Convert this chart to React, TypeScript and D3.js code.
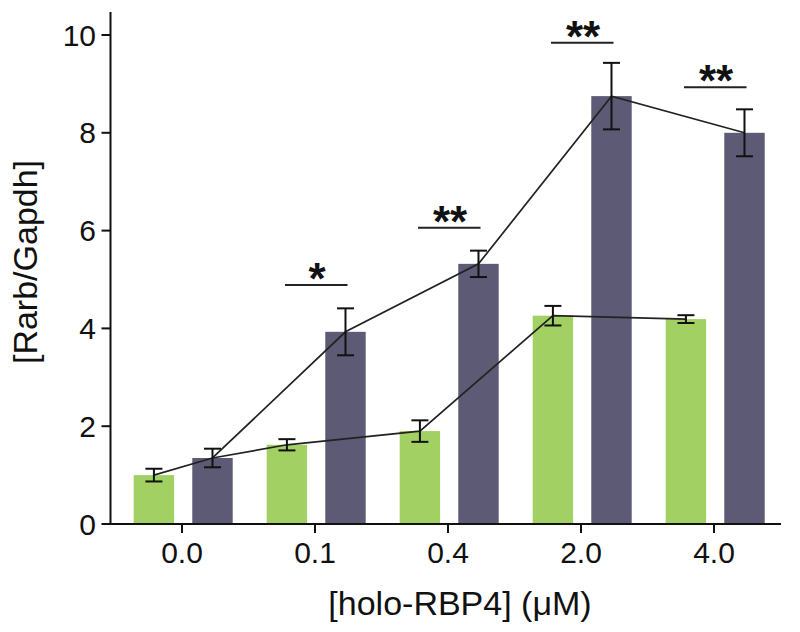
import React from "react";
import * as d3 from "d3";

const categories = ["0.0", "0.1", "0.4", "2.0", "4.0"];
const seriesKeys = ["control", "treated"];
const controlValues = [1.0, 1.62, 1.9, 4.26, 4.19];
const controlErrors = [0.13, 0.115, 0.22, 0.2, 0.08];
const treatedValues = [1.35, 3.93, 5.32, 8.75, 8.0];
const treatedErrors = [0.19, 0.48, 0.27, 0.68, 0.48];
const yTicks = [0, 2, 4, 6, 8, 10];
// lines: sequences of [categoryIndex, seriesKey]
const lowerLine: [number, string][] = [
  [0, "control"],
  [0, "treated"],
  [1, "control"],
  [2, "control"],
  [3, "control"],
  [4, "control"],
];
const upperLine: [number, string][] = [
  [0, "treated"],
  [1, "treated"],
  [2, "treated"],
  [3, "treated"],
  [4, "treated"],
];
const sigLabels = ["", "*", "**", "**", "**"];
const sigLevels = [0, 4.89, 6.06, 9.84, 8.93];
const xTitle = "[holo-RBP4] (\u03bcM)";
const yTitle = "[Rarb/Gapdh]";

const W = 800;
const H = 632;
const FONT = "'Liberation Sans', Arial, Helvetica, sans-serif";
const COLORS: Record<string, string> = { control: "#a3d063", treated: "#5c5a74" };

export default function App() {
  const axisX = 110.5;
  const axisY = 524;
  const y = d3.scaleLinear().domain([0, 10]).range([axisY, 35]);
  const x = d3.scaleBand<string>().domain(categories).range([115.5, 780.5]).padding(0);
  const xs = d3.scaleBand<string>().domain(seriesKeys).range([-48.3, 50.7]).paddingInner(0.31).paddingOuter(0);
  const bw = xs.bandwidth();
  const center = (i: number) => (x(categories[i]) as number) + x.bandwidth() / 2;
  const value = (i: number, k: string) => (k === "control" ? controlValues[i] : treatedValues[i]);
  const err = (i: number, k: string) => (k === "control" ? controlErrors[i] : treatedErrors[i]);
  const px = (i: number, k: string) => center(i) + (xs(k) as number) + bw / 2;

  const line = d3
    .line<[number, string]>()
    .x((d) => px(d[0], d[1]))
    .y((d) => y(value(d[0], d[1])));

  return (
    <svg
      width={W}
      height={H}
      style={{ position: "absolute", left: 0, top: 0, background: "#fff", display: "block" }}
      fontFamily={FONT}
    >
      <rect x={0} y={0} width={W} height={H} fill="#fff" />
      {/* bars */}
      {categories.map((c, i) =>
        seriesKeys.map((k) => (
          <rect
            key={c + k}
            x={center(i) + (xs(k) as number)}
            y={y(value(i, k))}
            width={bw}
            height={axisY - y(value(i, k))}
            fill={COLORS[k]}
          />
        ))
      )}
      {/* connecting lines */}
      <path d={line(lowerLine) || ""} fill="none" stroke="#222" strokeWidth={1.7} />
      <path d={line(upperLine) || ""} fill="none" stroke="#222" strokeWidth={1.7} />
      {/* error bars */}
      {categories.map((c, i) =>
        seriesKeys.map((k) => {
          const cx = px(i, k);
          const hi = y(value(i, k) + err(i, k));
          const lo = y(value(i, k) - err(i, k));
          return (
            <g key={"e" + c + k} stroke="#111" strokeWidth={2}>
              <line x1={cx} x2={cx} y1={hi} y2={lo} />
              <line x1={cx - 8.5} x2={cx + 8.5} y1={hi} y2={hi} />
              <line x1={cx - 8.5} x2={cx + 8.5} y1={lo} y2={lo} />
            </g>
          );
        })
      )}
      {/* significance */}
      {categories.map((c, i) =>
        sigLabels[i] ? (
          <g key={"s" + c}>
            <line
              x1={center(i) - 30}
              x2={center(i) + 32.5}
              y1={y(sigLevels[i])}
              y2={y(sigLevels[i])}
              stroke="#222"
              strokeWidth={2}
            />
            <text
              x={center(i) + 2}
              y={y(sigLevels[i]) + 9}
              textAnchor="middle"
              fontSize={44}
              fontWeight="bold"
              fill="#111"
            >
              {sigLabels[i]}
            </text>
          </g>
        ) : null
      )}
      {/* y axis */}
      <line x1={axisX} x2={axisX} y1={12} y2={axisY} stroke="#111" strokeWidth={2} />
      {yTicks.map((t) => (
        <g key={"y" + t}>
          <line x1={axisX - 9} x2={axisX} y1={y(t)} y2={y(t)} stroke="#111" strokeWidth={2} />
          <text x={96} y={y(t)} dy="0.35em" textAnchor="end" fontSize={30} fill="#111">
            {t}
          </text>
        </g>
      ))}
      {/* x axis */}
      <line x1={axisX - 1} x2={781} y1={axisY} y2={axisY} stroke="#111" strokeWidth={2} />
      {categories.map((c, i) => (
        <g key={"x" + c}>
          <line x1={center(i)} x2={center(i)} y1={axisY} y2={axisY + 9} stroke="#111" strokeWidth={2} />
          <text x={center(i)} y={563} textAnchor="middle" fontSize={30} fill="#111">
            {c}
          </text>
        </g>
      ))}
      <text x={460} y={614.5} textAnchor="middle" fontSize={34} fill="#111">
        {xTitle}
      </text>
      <text
        transform={`translate(37, 262) rotate(-90)`}
        textAnchor="middle"
        fontSize={34}
        fill="#111"
      >
        {yTitle}
      </text>
    </svg>
  );
}
